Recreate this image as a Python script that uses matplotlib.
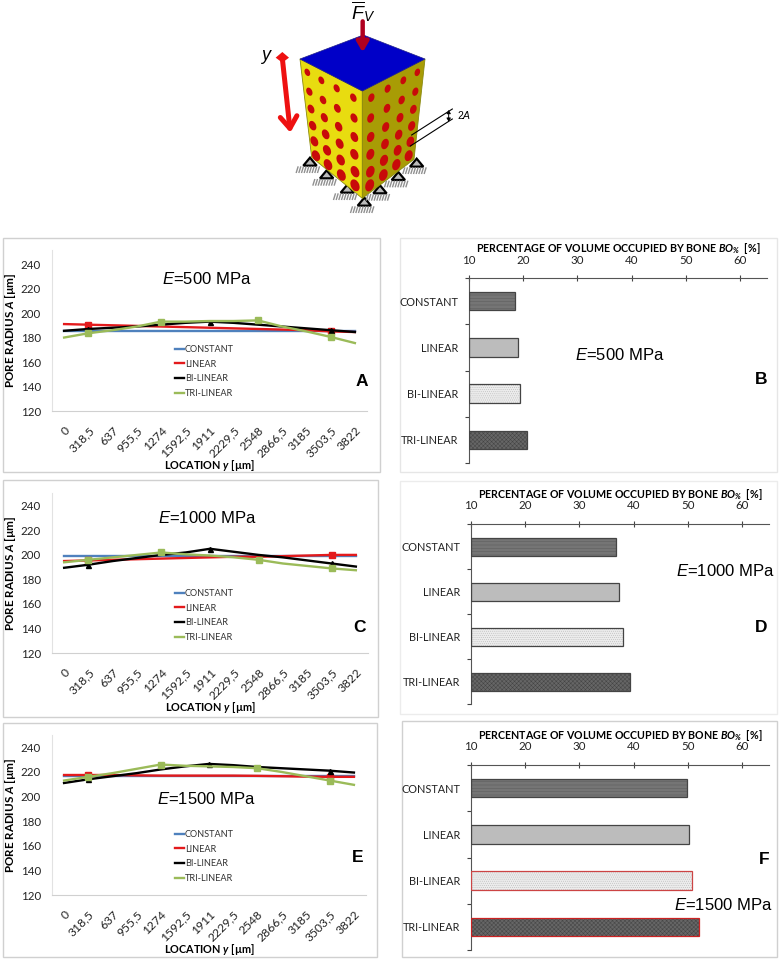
import numpy as np
import matplotlib
matplotlib.use("Agg")
import matplotlib.pyplot as plt
from matplotlib.lines import Line2D
from matplotlib.patches import Polygon, Ellipse, Rectangle

plt.rcParams['font.family'] = ['Lato', 'DejaVu Sans']
plt.rcParams['mathtext.fontset'] = 'custom'
plt.rcParams['mathtext.rm'] = 'Liberation Sans'
plt.rcParams['mathtext.it'] = 'Liberation Sans:italic'
plt.rcParams['mathtext.bf'] = 'Lato:bold'
plt.rcParams['mathtext.bfit'] = 'Lato:italic:bold'
plt.rcParams['hatch.linewidth'] = 0.35

locations = ['0', '318,5', '637', '955,5', '1274', '1592,5', '1911', '2229,5',
             '2548', '2866,5', '3185', '3503,5', '3822']
models = ['CONSTANT', 'LINEAR', 'BI-LINEAR', 'TRI-LINEAR']

# pore radius
const_a = [185, 185, 185, 185, 185, 185, 185, 185, 185, 185, 185, 185, 185]
linear_a = [191, 190.5, 190, 189.5, 189, 188.5, 188, 187.5, 187, 186.5, 186, 185, 184.5]
bi_a = [185.5, 187, 188, 189, 190.5, 192, 193, 192, 190.5, 189, 187.5, 186, 184.5]
tri_a = [180, 183.5, 186, 189, 193, 193, 193.5, 193.5, 194, 189, 185, 180.5, 175.5]

const_c = [199.5, 199.5, 199.5, 199.5, 199.5, 199.5, 199.5, 199.5, 199.5, 199.5, 199.5, 199.5, 199.5]
linear_c = [195, 195.5, 196, 196.5, 197, 197.5, 198, 198.5, 198.5, 199, 199.5, 200, 200]
bi_c = [189.5, 192, 195, 197.5, 200, 202, 205, 202.5, 200, 198, 195.5, 193, 190.5]
tri_c = [194, 196, 198, 200, 202, 200.5, 199.5, 198, 196, 193, 191, 189, 187.5]

const_e = [217, 217, 217, 217, 217, 217, 217, 217, 217, 217, 217, 217, 217]
linear_e = [217.5, 217.5, 217.5, 217.2, 217, 217, 217, 217, 216.8, 216.5, 216.2, 216, 216]
bi_e = [211, 214, 216.5, 219, 222, 224.5, 226.5, 225.5, 224, 223, 222, 221, 219.5]
tri_e = [213, 216, 219, 222.5, 226, 225, 224.5, 224, 223, 220, 216.5, 213, 209.5]

# bone percentage
bone_b = [18.4, 19.1, 19.5, 20.7]
bone_d = [36.8, 37.4, 38.1, 39.4]
bone_f = [49.9, 50.2, 50.8, 52.1]

W, H = 780, 960
fig = plt.figure(figsize=(W / 100, H / 100), dpi=100)

# overlay in image pixels, for frames and the cube sketch
ov = fig.add_axes([0, 0, 1, 1], zorder=0)
ov.set_xlim(0, W)
ov.set_ylim(H, 0)
ov.axis('off')


def px_axes(left, top, right, bottom):
    ax = fig.add_axes([left / W, 1 - bottom / H, (right - left) / W, (bottom - top) / H], zorder=2)
    ax.patch.set_alpha(0)
    return ax


def frame(left, top, right, bottom, col='#d0d0d0'):
    ov.add_patch(Rectangle((left, top), right - left, bottom - top, fc='white', ec=col, lw=1))


def line_panel(box, ylim_top, series, label, title_xy, legend_top):
    ax = px_axes(*box)
    x = np.arange(len(locations))
    styles = [('#4f81bd', None, []), ('#e31a1c', 's', [1, 11]),
              ('black', '^', [1, 6, 11]), ('#9bbb59', 's', [1, 4, 8, 11])]
    handles = []
    for vals, (col, mk, every), name in zip(series, styles, models):
        ms = 3.6 if mk == '^' else 4.3
        ax.plot(x, vals, color=col, lw=1.7, marker=mk, ms=ms, markevery=every or None)
        handles.append(Line2D([], [], color=col, lw=1.7, label=name))
    ax.set_xlim(-0.5, 12.5)
    ax.set_ylim(120, ylim_top)
    ax.set_yticks(range(120, 241, 20))
    ax.set_xticks(x)
    ax.set_xticklabels(locations, rotation=45, ha='right', rotation_mode='anchor', fontsize=8.7, color='#222222')
    ax.tick_params(axis='y', length=0, labelsize=8.3, labelcolor='#222222', pad=8)
    ax.tick_params(axis='x', length=0, pad=10)
    for s in ['top', 'right']:
        ax.spines[s].set_visible(False)
    ax.spines['left'].set_color('#e2e2e2')
    ax.spines['bottom'].set_color('#d0d0d0')
    wid = box[2] - box[0]
    hei = box[3] - box[1]
    ax.set_ylabel(r'PORE RADIUS $\mathbfit{A}$ [µm]', fontsize=8.4, fontweight='bold')
    ax.yaxis.set_label_coords((18 - box[0]) / wid, 0.5)
    ax.set_xlabel(r'LOCATION $\mathbfit{y}$ [µm]', fontsize=7.8, fontweight='bold')
    ax.xaxis.set_label_coords(0.5, -47 / hei)
    ov.text(*title_xy, label, fontsize=12, ha='center', va='center', family='Liberation Sans', zorder=5)
    ax.legend(handles=handles, loc='upper left',
              bbox_to_anchor=((175 - box[0]) / wid, 1 - (legend_top - box[1]) / hei),
              frameon=False, fontsize=6.6, labelspacing=0.62, handlelength=1.0, handletextpad=0.1,
              borderpad=0, borderaxespad=0, labelcolor='#333333')
    return ax


def bar_panel(box, vals, label, title_xy, edge_cols):
    ax = px_axes(*box)
    y = np.arange(len(models))
    fills = ['#757575', '#bcbcbc', '#ececec', '#666666']
    hatches = ['-----', None, '........', 'xxxxxxxx']
    hcols = ['#5c5c5c', '#bcbcbc', '#bbbbbb', '#444444']
    bars = ax.barh(y, np.array(vals) - 10, left=10, height=0.4, color=fills, zorder=2)
    for b, h, hc, ec in zip(bars, hatches, hcols, edge_cols):
        b.set_hatch(h)
        b.set_edgecolor(hc)
        b.set_linewidth(0)
        ax.add_patch(Rectangle(b.get_xy(), b.get_width(), b.get_height(), fc='none', ec=ec, lw=0.9, zorder=3))
    ax.set_xlim(10, 65)
    ax.set_ylim(3.5, -0.5)
    ax.xaxis.tick_top()
    ax.set_xticks(range(10, 61, 10))
    ax.set_yticks(np.arange(-0.5, 4, 1), minor=True)
    ax.set_yticks(y)
    ax.set_yticklabels(models, fontsize=7.8, color='#222222')
    ax.tick_params(axis='y', which='major', length=0, pad=8)
    ax.tick_params(axis='y', which='minor', direction='out', length=3, color='#444444', width=0.8)
    ax.tick_params(axis='x', which='major', direction='inout', length=4, color='#444444', width=0.8,
                   labelsize=8.3, pad=7, labelcolor='#222222')
    for s in ['right', 'bottom']:
        ax.spines[s].set_visible(False)
    ax.spines['top'].set_color('#555555')
    ax.spines['left'].set_color('#555555')
    ax.xaxis.set_label_position('top')
    ax.set_xlabel(r'PERCENTAGE OF VOLUME OCCUPIED BY BONE $\mathbfit{BO}_{\mathbfit{\%}}$  [%]',
                  fontsize=7.7, fontweight='bold', labelpad=2)
    ov.text(*title_xy, label, fontsize=12, ha='center', va='center', family='Liberation Sans', zorder=5)
    return ax


frame(3, 238, 380, 472)
frame(3, 480, 378, 717)
frame(3, 723, 377, 957)
frame(400, 238, 777, 472, '#e6e6e6')
frame(400, 481, 777, 714, '#ececec')
frame(402, 721, 777, 957)

gray = ['#444444'] * 4
line_panel((52, 250, 367, 411), 251.5, [const_a, linear_a, bi_a, tri_a], r'$\mathit{E}$=500 MPa', (207, 279), 345)
line_panel((52, 493, 368, 653), 250.5, [const_c, linear_c, bi_c, tri_c], r'$\mathit{E}$=1000 MPa', (207, 518), 589)
line_panel((52, 735, 366, 895), 250, [const_e, linear_e, bi_e, tri_e], r'$\mathit{E}$=1500 MPa', (206, 799), 830)

bar_panel((469, 278, 767, 463), bone_b, r'$\mathit{E}$=500 MPa', (620, 355), gray)
bar_panel((471, 524, 769, 704), bone_d, r'$\mathit{E}$=1000 MPa', (725, 571), gray)
bar_panel((471, 765, 769, 950), bone_f, r'$\mathit{E}$=1500 MPa', (723, 905),
          ['#444444', '#444444', '#cc4444', '#cc2222'])

for letter, lx, ly in [('A', 362, 381), ('B', 761, 380), ('C', 359, 628), ('D', 761, 627),
                       ('E', 358, 858), ('F', 764, 859)]:
    ov.text(lx, ly, letter, fontsize=12.5, fontweight='bold', ha='center', va='center', zorder=5,
            family='Liberation Sans')


# cube sketch, coordinates in pixels of the 3x crop
def zx(p):
    return 230 + p / 3


def zy(p):
    return p / 3


def poly(pts, **kw):
    ov.add_patch(Polygon([(zx(a), zy(b)) for a, b in pts], closed=True, **kw))


supports = [(240, 487), (290, 525), (352, 568), (403, 607), (450, 570), (505, 530), (560, 490)]
for sx, sy in supports:
    poly([(sx - 20, sy + 10), (sx, sy - 14), (sx + 20, sy + 10)], fc='#bbbbbb', ec='black', lw=1.6)
    for k in range(9):
        dx = sx - 36 + k * 8
        ov.plot([zx(dx), zx(dx - 5)], [zy(sy + 14), zy(sy + 30)], color='#909090', lw=1.0)

poly([(210, 177), (397, 273), (397, 595), (245, 472)], fc='#e8dc10', ec='#8a8a10', lw=0.6)
poly([(585, 177), (397, 273), (397, 595), (552, 478)], fc='#a89c05', ec='#8a8a10', lw=0.6)
poly([(210, 177), (400, 105), (585, 177), (397, 273)], fc='#0000c8', ec='#222288', lw=0.5)

left_pores = [(232, 217), (274, 241), (320, 265), (370, 293),
              (238, 275), (279, 300), (322, 325), (372, 354),
              (243, 327), (283, 353), (326, 380), (373, 411),
              (248, 377), (287, 403), (329, 431), (373, 463),
              (253, 424), (291, 451), (332, 480), (375, 515),
              (258, 467), (294, 494), (334, 525), (375, 556)]
right_pores = [(424, 293), (473, 266), (520, 241), (562, 217),
               (422, 354), (471, 325), (515, 300), (556, 275),
               (422, 411), (467, 381), (510, 353), (550, 328),
               (421, 463), (465, 432), (506, 404), (545, 378),
               (421, 515), (462, 481), (503, 451), (541, 425),
               (419, 556), (460, 525), (499, 494), (536, 467)]
for pts, ang in [(left_pores, -25), (right_pores, 20)]:
    for px, py in pts:
        k = 0.65 + 0.4 * (py - 217) / 340
        ov.add_patch(Ellipse((zx(px), zy(py)), 8 * k, 12 * k, angle=ang, fc='#c80a0a', ec='none', zorder=3))

# load and direction arrows
ov.annotate('', xy=(zx(398), zy(157)), xytext=(zx(398), zy(64)), zorder=4,
            arrowprops=dict(arrowstyle='-|>,head_width=0.35,head_length=0.6', color='#b00020', lw=3.2, shrinkA=0, shrinkB=0))
ov.annotate('', xy=(zx(181), zy(398)), xytext=(zx(157), zy(175)), zorder=4,
            arrowprops=dict(arrowstyle='->,head_width=0.6,head_length=0.85', color='#ee1111', lw=3.6, shrinkA=0, shrinkB=0))
poly([(137, 173), (157, 156), (177, 173), (157, 188)], fc='#ee1111', ec='none', zorder=4)

ov.plot([zx(545), zx(667)], [zy(405), zy(327)], color='black', lw=0.8, zorder=4)
ov.plot([zx(541), zx(667)], [zy(438), zy(357)], color='black', lw=0.8, zorder=4)
ov.annotate('', xy=(zx(656), zy(330)), xytext=(zx(656), zy(365)), zorder=4,
            arrowprops=dict(arrowstyle='<|-|>,head_width=0.12,head_length=0.2', color='black', lw=0.7, shrinkA=0, shrinkB=0))

ov.text(zx(400), zy(35), r'$\overline{\mathit{F}}_{\mathit{V}}$', fontsize=14, ha='center', va='center', zorder=5)
ov.text(zx(109), zy(172), r'$\mathit{y}$', fontsize=13, ha='center', va='center', zorder=5)
ov.text(zx(701), zy(345), r'$\mathit{2A}$', fontsize=7.5, ha='center', va='center', zorder=5)

fig.savefig('out.png', dpi=100)
